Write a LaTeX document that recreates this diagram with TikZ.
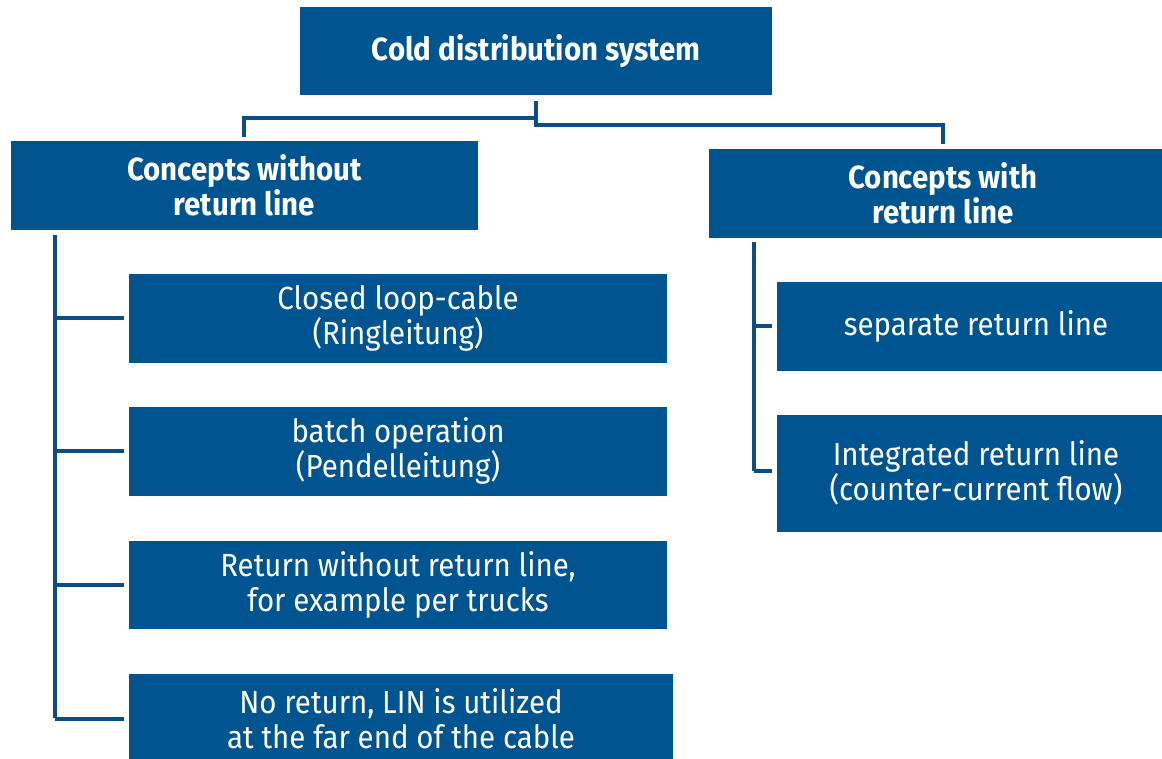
\documentclass[tikz,border=0pt]{standalone}
\usepackage{fontspec}
\setmainfont{Fira Sans}[FakeStretch=0.92]
\definecolor{boxblue}{HTML}{005591}
\definecolor{lineblue}{HTML}{0B4E83}
\tikzset{
  box/.style={rectangle, fill=boxblue, draw=none, text=white, align=center,
    inner sep=0pt, font=\fontsize{32}{35}\selectfont},
  head/.style={box, font=\fontsize{32}{35}\selectfont\bfseries},
  conn/.style={draw=lineblue, line width=4pt, line join=miter}
}
\begin{document}
\begin{tikzpicture}[x=1pt,y=-1pt]
\useasboundingbox (0,0) rectangle (1162,758);
\node[head, minimum width=472pt, minimum height=88pt] (top) at (536,51) {Cold distribution system};
\node[head, minimum width=467pt, minimum height=89pt] (L) at (244.5,185) {Concepts without\\return line};
\node[head, minimum width=468pt, minimum height=89pt] (R) at (943,193) {Concepts with\\return line};
\node[box, minimum width=538pt, minimum height=89pt] (l1) at (398,318) {Closed loop-cable\\(Ringleitung)};
\node[box, minimum width=538pt, minimum height=89pt] (l2) at (398,451) {batch operation\\(Pendelleitung)};
\node[box, minimum width=538pt, minimum height=88pt] (l3) at (398,584.5) {Return without return line,\\for example per trucks};
\node[box, minimum width=544pt, minimum height=90pt] (l4) at (401,718.5) {No return, LIN is utilized\\at the far end of the cable};
\node[box, minimum width=398pt, minimum height=89pt] (r1) at (976,326) {separate return line};
\node[box, minimum width=398pt, minimum height=117pt] (r2) at (976,473) {Integrated return line\\(counter-current flow)};
% top connector
\coordinate (tA) at (536,101);
\coordinate (tB) at (536,125);
\coordinate (tL) at (244,118);
\coordinate (tLd) at (244,137);
\coordinate (tR) at (943,125);
\coordinate (tRd) at (943,144);
\draw[conn] (tA) -- (tB) -- (tR) -- (tRd);
\draw[conn] (536,118) -- (tL) -- (tLd);
% left trunk
\coordinate (Lt) at (55,235);
\coordinate (Lb) at (55,718);
\draw[conn] (Lt) -- (Lb);
\foreach \n in {l1,l2,l3,l4}{
  \draw[conn] (Lt |- \n.west) -- ([xshift=-5pt]\n.west);
}
% right trunk
\coordinate (Rt) at (754,242);
\coordinate (Rb) at (754,471);
\draw[conn] (Rt) -- (Rb);
\draw[conn] (Rt |- r1.west) -- ([xshift=-5pt]r1.west);
\draw[conn] (Rb) -- ([xshift=-5pt]r2.west |- Rb);
\end{tikzpicture}
\end{document}
